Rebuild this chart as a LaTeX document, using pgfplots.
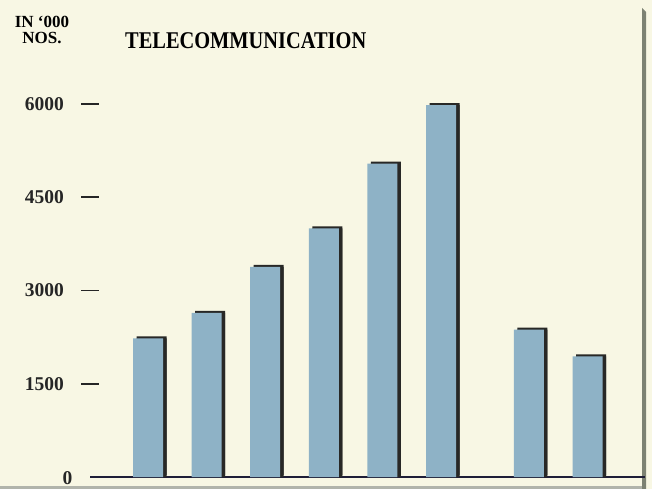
\documentclass[border=0pt]{standalone}
\usepackage{pgfplots}
\pgfplotsset{compat=1.18}
\usepackage{fontspec}
\setmainfont{Liberation Serif}

\definecolor{paper}{RGB}{248,247,228}
\definecolor{barfill}{RGB}{142,178,198}
\definecolor{barshade}{RGB}{40,40,38}
\definecolor{baseline}{RGB}{30,30,55}
\definecolor{edge}{RGB}{125,130,115}

% values in '000 nos.
\pgfplotstableread{
x    y
0    2230
1    2640
2    3380
3    4000
4    5040
5    5980
6.5  2370
7.5  1940
}\telecom

\begin{document}
\begin{tikzpicture}[x=1pt,y=1pt]
\useasboundingbox (0,0) rectangle (652,489);
\fill[paper] (0,0) rectangle (652,489);
\fill[edge] (642,481) -- (646,477) -- (646,0) -- (642,0) -- cycle;
\fill[edge!60] (0,0) rectangle (642,3);

\node[anchor=base, font=\fontsize{17}{17}\selectfont\bfseries, inner sep=0pt] at (42,461) {IN ‘000};
\node[anchor=base, font=\fontsize{17}{17}\selectfont\bfseries, inner sep=0pt] at (42,445) {NOS.};
\node[anchor=base west, inner sep=0pt] at (125,440.7)
  {\scalebox{0.85}[1]{\fontsize{24}{24}\selectfont\bfseries TELECOMMUNICATION}};

\begin{axis}[
    at={(90pt,12pt)},
    anchor=south west,
    scale only axis,
    width=555pt,
    height=391.7pt,
    xmin=-0.99, xmax=8.48,
    ymin=0, ymax=6300,
    axis x line=bottom,
    axis y line=left,
    x axis line style={-, line width=1.8pt, color=baseline},
    y axis line style={draw=none},
    xtick=\empty,
    ytick={1500,3000,4500,6000},
    extra y ticks={0},
    extra y tick style={major tick length=0pt, yticklabel style={yshift=-1pt}},
    tick align=center,
    major tick length=17pt,
    tick style={line width=1.6pt, color=black!85},
    yticklabel style={font=\fontsize{19.5}{20}\selectfont\bfseries, color=black!85, anchor=east, xshift=-14pt},
    /pgf/number format/assume math mode=true,
    /pgf/number format/1000 sep={},
    ybar,
    bar width=30pt,
    clip=false,
]
\addplot[fill=barshade, draw=none, bar shift=3.5pt] table[x=x,y=y] {\telecom};
\addplot[fill=barshade, draw=none, bar shift=3.5pt, yshift=2pt] table[x=x,y=y] {\telecom};
\addplot[fill=barfill, draw=none, bar shift=0pt] table[x=x,y=y] {\telecom};
\end{axis}
\end{tikzpicture}
\end{document}
